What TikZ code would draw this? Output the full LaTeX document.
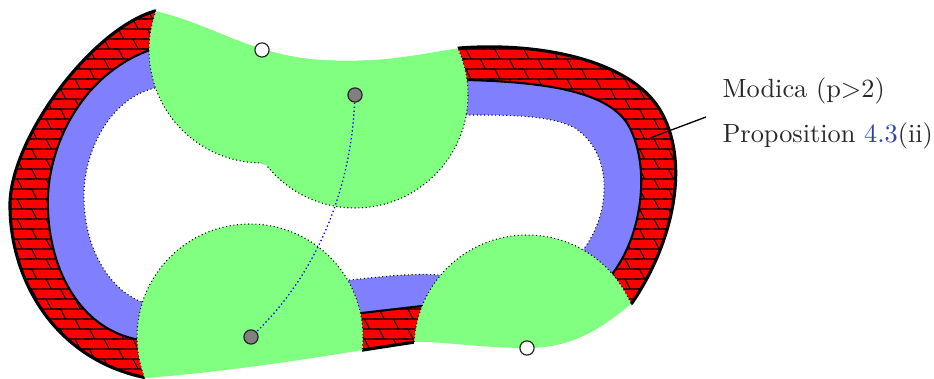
\documentclass[tikz,border=0pt]{standalone}
\usetikzlibrary{patterns}
\definecolor{linkblue}{RGB}{45,65,170}
\definecolor{txtgray}{RGB}{40,40,40}
\pgfdeclarepatternformonly{mybricks}{\pgfqpoint{-1pt}{-1pt}}{\pgfqpoint{12pt}{8.6pt}}{\pgfqpoint{11pt}{7.6pt}}{%
  \pgfsetlinewidth{0.4pt}%
  \pgfpathmoveto{\pgfqpoint{-1pt}{0pt}}\pgfpathlineto{\pgfqpoint{12pt}{0pt}}%
  \pgfpathmoveto{\pgfqpoint{-1pt}{3.8pt}}\pgfpathlineto{\pgfqpoint{12pt}{3.8pt}}%
  \pgfpathmoveto{\pgfqpoint{3pt}{0pt}}\pgfpathlineto{\pgfqpoint{1pt}{3.8pt}}%
  \pgfpathmoveto{\pgfqpoint{8.5pt}{3.8pt}}\pgfpathlineto{\pgfqpoint{6.5pt}{7.6pt}}%
  \pgfusepath{stroke}%
}
\begin{document}
\begin{tikzpicture}[x=0.38pt,y=-0.38pt,
  whitept/.style={circle, draw=black!85, fill=white, line width=0.45pt, minimum size=5.4pt, inner sep=0pt},
  graypt/.style={circle, draw=black!85, fill=gray, line width=0.45pt, minimum size=5.4pt, inner sep=0pt},
  lbl/.style={anchor=base west, inner sep=0pt, text=txtgray}]
\useasboundingbox (0,0) rectangle (934,379);
\def\domainpath{(155,11) .. controls (215,25) and (250,55) .. (320,60)
  .. controls (380,64) and (420,54) .. (460,48)
  .. controls (540,42) and (630,60) .. (660,110)
  .. controls (690,160) and (675,240) .. (632,303)
  .. controls (595,335) and (565,348) .. (527,348)
  .. controls (480,348) and (440,341) .. (415,342)
  -- (363,350)
  .. controls (290,362) and (220,372) .. (147,378)
  .. controls (55,360) and (10,280) .. (10,205)
  .. controls (10,140) and (90,30) .. (155,11) -- cycle}
\def\innerpath{(150,50) .. controls (80,75) and (45,150) .. (48,210)
  .. controls (50,270) and (80,330) .. (140,340)
  .. controls (220,330) and (300,318) .. (362,313)
  -- (422,306)
  .. controls (500,298) and (580,292) .. (613,273)
  .. controls (645,230) and (650,160) .. (627,123)
  .. controls (605,90) and (540,82) .. (467,80)
  .. controls (350,75) and (230,40) .. (150,50) -- cycle}
\def\dotpath{(155,88) .. controls (105,100) and (82,160) .. (84,200)
  .. controls (85,250) and (110,290) .. (142,302)
  .. controls (220,290) and (300,284) .. (350,280)
  .. controls (380,277) and (410,273) .. (440,275)
  .. controls (490,270) and (550,262) .. (583,250)
  .. controls (610,215) and (615,155) .. (575,128)
  .. controls (550,115) and (510,115) .. (467,115)
  .. controls (380,112) and (220,85) .. (155,88) -- cycle}
\def\disks{(262,50) circle (113) (355,95) circle (113) (250,337) circle (113) (527,348) circle (113)}
% ring, band, interior
\begin{scope}
  \clip \domainpath;
  \fill[red] \domainpath;
  \fill[pattern=mybricks] \domainpath;
  \fill[blue!50] \innerpath;
  \draw[line width=0.8pt] \innerpath;
  \fill[white] \dotpath;
  \draw[densely dotted, line width=0.4pt] \dotpath;
\end{scope}
\draw[line width=1.2pt] \domainpath;
% erase the outer line where the balls are
\foreach \c in {(262,50),(355,95),(250,337),(527,348)}{
  \begin{scope}
    \clip \c circle (113);
    \draw[white, line width=3pt] \domainpath;
  \end{scope}
}
% balls
\begin{scope}
  \clip \domainpath;
  \fill[green!50] \disks;
  \draw[densely dotted, line width=0.4pt] \disks;
  \begin{scope}
    \clip (262,50) circle (115);
    \fill[green!50] (355,95) circle (115);
  \end{scope}
\end{scope}
% points
\node[whitept] (pA) at (262,50) {};
\node[graypt] (pB) at (355,95) {};
\node[graypt] (pC) at (251,337) {};
\node[whitept] (pD) at (527,348) {};
\draw[blue, densely dotted, line width=0.5pt] (pB) .. controls (350,200) and (310,280) .. (pC);
% label
\coordinate (ring) at (650,138);
\coordinate (lend) at (706,117);
\draw[line width=0.5pt] (ring) -- (lend);
\node[lbl] (l1) at (722,98) {Modica (p>2)};
\node[lbl] (l2) at (722,143) {Proposition \textcolor{linkblue}{4.3}(ii)};
\end{tikzpicture}
\end{document}
